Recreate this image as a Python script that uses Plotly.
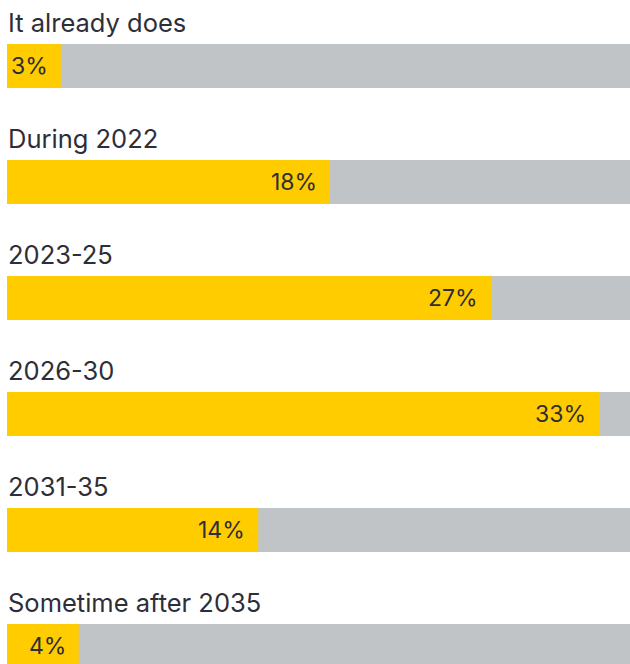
import plotly.graph_objects as go

categories = ["It already does", "During 2022", "2023-25", "2026-30", "2031-35", "Sometime after 2035"]
values = [3, 18, 27, 33, 14, 4]
labels = ["3%", "18%", "27%", "33%", "14%", "4%"]

YELLOW = "#FFCC00"
GRAY = "#C0C4C7"
TEXT = "#2E2E38"
FONT = "Inter"

idx = list(range(len(categories)))
XMAX = 34.72
BAR_W = 0.379

fig = go.Figure()
# gray track
fig.add_trace(go.Bar(x=[XMAX] * len(idx), y=idx, orientation="h", width=BAR_W,
                     marker=dict(color=GRAY, line=dict(width=0)), hoverinfo="skip"))
fig.add_trace(go.Bar(x=values, y=idx, orientation="h", width=BAR_W,
                     marker=dict(color=YELLOW, line=dict(width=0)), hoverinfo="skip"))

for i, (c, v, l) in enumerate(zip(categories, values, labels)):
    fig.add_annotation(x=0, y=i, xref="x", yref="y", text=c, showarrow=False,
                       xanchor="left", yanchor="middle", yshift=44, xshift=-1,
                       font=dict(family=FONT, size=25.5, color=TEXT))
    fig.add_annotation(x=v, y=i, xref="x", yref="y", text=l, showarrow=False,
                       xanchor="right", yanchor="middle", xshift=-11, yshift=0,
                       font=dict(family=FONT, size=23, color=TEXT))

fig.update_layout(
    width=630, height=664, barmode="overlay", showlegend=False,
    margin=dict(l=7, r=0, t=0, b=0),
    paper_bgcolor="white", plot_bgcolor="white",
    xaxis=dict(range=[0, XMAX], visible=False, fixedrange=True),
    yaxis=dict(range=[5.155, -0.569], visible=False, fixedrange=True),
)
fig.write_html("out.html")
